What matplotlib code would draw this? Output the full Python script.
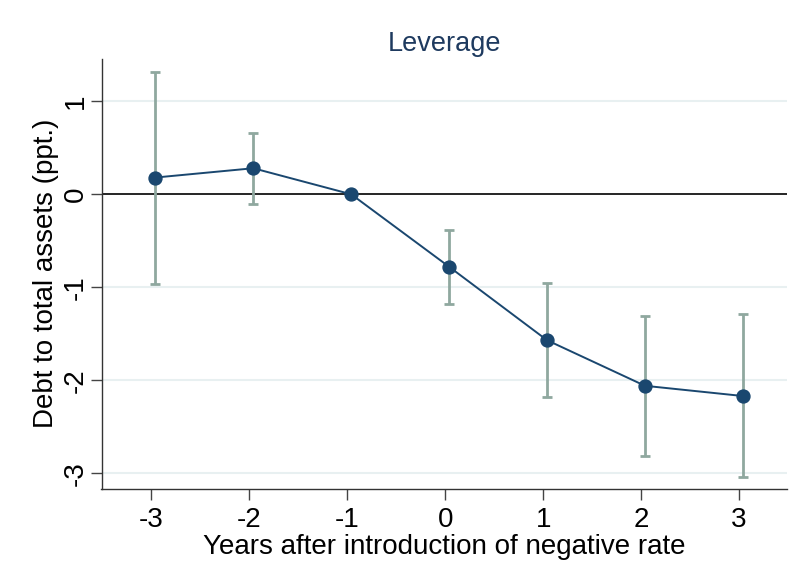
import numpy as np
import matplotlib
matplotlib.use("Agg")
import matplotlib.pyplot as plt

# event-study coefficients: debt / total assets (ppt.), 95% CI
years = np.array([-3, -2, -1, 0, 1, 2, 3])
coef = np.array([0.18, 0.28, 0.0, -0.78, -1.57, -2.06, -2.17])
ci_lo = np.array([-0.96, -0.10, 0.0, -1.18, -2.18, -2.81, -3.04])
ci_hi = np.array([1.32, 0.66, 0.0, -0.38, -0.95, -1.31, -1.29])
xticks = [-3, -2, -1, 0, 1, 2, 3]
yticks = [1, 0, -1, -2, -3]

NAVY = "#1a476f"
CI_COL = "#8fa89f"
OFFSET = 0.04   # coefplot-style nudge of markers off the tick

plt.rcParams.update({"font.family": ["Liberation Sans", "DejaVu Sans"],
                     "font.size": 19, "axes.unicode_minus": False})

fig = plt.figure(figsize=(7.99, 5.73), dpi=100)
ax = fig.add_axes([101.5 / 799, 1 - 489 / 573, (787 - 101.5) / 799, (489 - 59) / 573])

for y in yticks:
    if y != 0:
        ax.axhline(y, color="#e8f0f1", lw=1.5, zorder=0)
ax.axhline(0, color="black", lw=1.2, zorder=1)

x = years + OFFSET
ax.vlines(x, ci_lo, ci_hi, color=CI_COL, lw=2.0, zorder=2)
ax.hlines(ci_lo, x - 0.05, x + 0.05, color=CI_COL, lw=2.0, zorder=2)
ax.hlines(ci_hi, x - 0.05, x + 0.05, color=CI_COL, lw=2.0, zorder=2)
ax.plot(x, coef, "-", color=NAVY, lw=1.4, zorder=3)
ax.plot(x, coef, "o", color=NAVY, ms=9.3, zorder=4)

ax.set_xlim(-3.51, 3.49)
ax.set_ylim(-3.17, 1.455)
ax.set_xticks(xticks)
ax.set_yticks(yticks)
ax.set_xticklabels([str(t) for t in xticks], fontsize=20)
ax.set_yticklabels([str(t) for t in yticks], rotation=90, va="center", fontsize=20)
ax.tick_params(axis="both", length=8, width=1.0, color="#444444")
ax.tick_params(axis="x", pad=5)
ax.tick_params(axis="y", pad=1)

for s in ("top", "right"):
    ax.spines[s].set_visible(False)
for s in ("left", "bottom"):
    ax.spines[s].set_color("#333333")
    ax.spines[s].set_linewidth(1.0)

ax.set_title("Leverage", color="#1e3a5f", fontsize=19.5, pad=6)
ax.set_xlabel("Years after introduction of negative rate", fontsize=20, labelpad=1)
# y title placed in figure pixels, left of the rotated tick labels
fig.text(46 / 799, 1 - 273 / 573, "Debt to total assets (ppt.)", fontsize=20,
         rotation=90, ha="center", va="center")

fig.savefig("out.png", dpi=100, facecolor="white")
